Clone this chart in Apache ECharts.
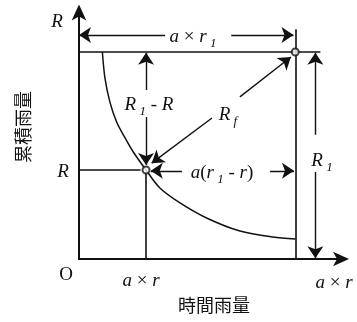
<!DOCTYPE html>
<html>
<head>
<meta charset="utf-8">
<script src="https://cdn.jsdelivr.net/npm/echarts@6/dist/echarts.min.js"></script>
<style>
  html, body { margin: 0; padding: 0; background: #fff; }
  #chart { width: 357px; height: 322px; }
</style>
</head>
<body>
<div id="chart"></div>
<script>
// Cumulative rainfall (R) against hourly rainfall scaled by a (a × r).
// Units: a × r1 = 100, R1 = 100.
const AXIS_MAX_X = 123;
const AXIS_MAX_Y = 121;

const A_R1 = 100;   // a × r1
const R1 = 100;     // R1
const A_R = 31;     // a × r
const R_VAL = 43;   // R

// Rainfall curve
const curveX = [10.8, 12.0, 14.3, 17.4, 21.3, 25.1, 31, 37.4, 46.7, 59.0, 74.4, 89.7, 100];
const curveY = [100, 87.4, 75.8, 66.2, 58.5, 51.7, 43, 34.3, 27.1, 19.8, 13.5, 10.6, 9.7];

// Marked points: (a×r, R) and (a×r1, R1)
const pointsX = [A_R, A_R1];
const pointsY = [R_VAL, R1];

// Plain guide segments [x1, y1, x2, y2]
const guides = [
  [0, R1, A_R1, R1],              // top boundary at R1
  [A_R1, 0, A_R1, 111],           // right boundary at a×r1
  [0, R_VAL, A_R - 2.5, R_VAL],   // level R
  [A_R, 0, A_R, R_VAL - 1.6],     // position a×r
  [A_R1, R1, 111.6, R1]           // extension line for R1
];

// Dimension arrows [x_from, y_from, x_to(tip), y_to(tip)]
const arrows = [
  [39.8, 108.2, 0, 108.2],      // a × r1, left half
  [70.4, 108.2, 99.2, 108.2],   // a × r1, right half
  [109.3, 60, 109.3, 99.6],     // R1, upper half
  [109.3, 42, 109.3, 0.4],      // R1, lower half
  [A_R, 81.6, A_R, 99.6],       // R1 - R, upper half
  [A_R, 68.6, A_R, 45.4],       // R1 - R, lower half
  [74.4, 78.3, 98, 97.6],       // Rf, toward (a×r1, R1)
  [61.5, 68.1, 33.6, 46.3],     // Rf, toward (a×r, R)
  [47.6, 42.6, 33.2, 42.6],     // a(r1 - r), left half
  [88.3, 42.6, 99.4, 42.6]      // a(r1 - r), right half
];

const SERIF = '"Liberation Serif", "DejaVu Serif", serif';
const CJK = '"Noto Sans CJK JP", "Noto Sans CJK SC", sans-serif';

const rich = {
  i: { fontFamily: SERIF, fontStyle: 'italic', fontSize: 19, lineHeight: 26, fill: '#111' },
  n: { fontFamily: SERIF, fontSize: 19, lineHeight: 26, fill: '#111' },
  s: { fontFamily: SERIF, fontStyle: 'italic', fontSize: 13, lineHeight: 26, verticalAlign: 'bottom', fill: '#111' }
};

function mathText(x, y, text) {
  return {
    type: 'text', x: x, y: y,
    style: { text: text, rich: rich, align: 'center', verticalAlign: 'middle' }
  };
}

const chart = echarts.init(document.getElementById('chart'), null, { renderer: 'canvas' });

const lineColor = '#111';

chart.setOption({
  animation: false,
  backgroundColor: '#fff',
  grid: { left: 79, right: 12, top: 8.5, bottom: 63, containLabel: false },
  xAxis: {
    type: 'value', min: 0, max: AXIS_MAX_X,
    axisLine: { show: true, lineStyle: { color: lineColor, width: 2 }, symbol: ['none', 'arrow'], symbolSize: [11, 16], symbolOffset: [0, 4] },
    axisTick: { show: false }, axisLabel: { show: false }, splitLine: { show: false }
  },
  yAxis: {
    type: 'value', min: 0, max: AXIS_MAX_Y,
    axisLine: { show: true, lineStyle: { color: lineColor, width: 2 }, symbol: ['none', 'arrow'], symbolSize: [11, 16], symbolOffset: [0, 4] },
    axisTick: { show: false }, axisLabel: { show: false }, splitLine: { show: false }
  },
  series: [
    {
      type: 'lines', coordinateSystem: 'cartesian2d', silent: true,
      lineStyle: { color: lineColor, width: 1.6, opacity: 1 },
      symbol: ['none', 'none'],
      data: guides.map(g => ({ coords: [[g[0], g[1]], [g[2], g[3]]] }))
    },
    {
      type: 'lines', coordinateSystem: 'cartesian2d', silent: true,
      lineStyle: { color: lineColor, width: 1.4, opacity: 1 },
      symbol: ['none', 'arrow'], symbolSize: [6, 12],
      data: arrows.map(a => ({ coords: [[a[0], a[1]], [a[2], a[3]]] }))
    },
    {
      type: 'line', smooth: 0.3, silent: true, symbol: 'none',
      lineStyle: { color: lineColor, width: 1.5 },
      data: curveX.map((x, k) => [x, curveY[k]])
    },
    {
      type: 'scatter', silent: true, symbol: 'circle', symbolSize: 7,
      itemStyle: { color: '#fff', borderColor: lineColor, borderWidth: 2 },
      data: pointsX.map((x, k) => [x, pointsY[k]]),
      z: 5
    }
  ],
  graphic: [
    mathText(57, 22, '{i|R}'),
    mathText(63, 172, '{i|R}'),
    mathText(66, 275, '{n|O}'),
    mathText(141, 281, '{i|a}{n| × }{i|r}'),
    mathText(334, 283, '{i|a}{n| × }{i|r}'),
    mathText(193, 37, '{i|a}{n| × }{i|r}{s| 1}'),
    mathText(149, 105, '{i|R}{s| 1}{n| - }{i|R}'),
    mathText(228, 115, '{i|R}{s| f}'),
    mathText(222, 173, '{i|a}{n|(}{i|r}{s| 1}{n| - }{i|r}{n|)}'),
    mathText(322, 161, '{i|R}{s| 1}'),
    {
      type: 'text', x: 214, y: 305,
      style: { text: '時間雨量', font: '18px ' + CJK, fill: '#111', align: 'center', verticalAlign: 'middle' }
    },
    {
      type: 'text', x: 23, y: 127, rotation: Math.PI / 2,
      style: { text: '累積雨量', font: '18px ' + CJK, fill: '#111', align: 'center', verticalAlign: 'middle' }
    }
  ]
});
</script>
</body>
</html>
